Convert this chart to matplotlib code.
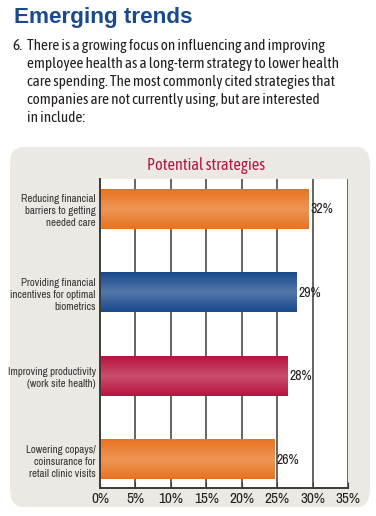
import numpy as np
import matplotlib.pyplot as plt
from matplotlib import font_manager
from matplotlib.font_manager import FontProperties
from matplotlib.patches import FancyBboxPatch
from matplotlib.colors import LinearSegmentedColormap

# chart data
categories = [
    'Reducing financial\nbarriers to getting\nneeded care',
    'Providing financial\nincentives for optimal\nbiometrics',
    'Improving productivity\n(work site health)',
    'Lowering copays/\ncoinsurance for\nretail clinic visits',
]
bar_values = [29.4, 27.7, 26.4, 24.6]      # bar lengths as drawn
value_labels = ['32%', '29%', '28%', '26%']  # printed labels
bar_colors = ['#E8731F', '#1B4A8C', '#B8143F', '#E8731F']
ticks = [0, 5, 10, 15, 20, 25, 30, 35]

W, H = 376, 516

files = {f.fname.split('/')[-1]: f.fname for f in font_manager.fontManager.ttflist}

def pick(*names):
    for n in names:
        if n in files:
            return FontProperties(fname=files[n])
    return FontProperties(family='DejaVu Sans', stretch='condensed')

body_font = pick('AsapCondensed-Regular.ttf', 'DejaVuSansCondensed.ttf')
narrow_font = pick('ArchivoNarrow[wght].ttf', 'DejaVuSansCondensed.ttf')

fig = plt.figure(figsize=(W / 100, H / 100), dpi=100)
fig.patch.set_facecolor('white')

def fx(px):
    return px / W

def fy(py):
    return 1 - py / H

# heading
fig.text(fx(14), fy(17), 'Emerging trends', fontsize=16.2, fontweight='bold',
         color='#1B4A8C', family='Liberation Sans', va='center', ha='left')

body = ['There is a growing focus on influencing and improving',
        'employee health as a long-term strategy to lower health',
        'care spending. The most commonly cited strategies that',
        'companies are not currently using, but are interested',
        'in include:']
fig.text(fx(12), fy(46), '6.', fontproperties=body_font, fontsize=11, color='#231F20', va='center')
for i, line in enumerate(body):
    fig.text(fx(27), fy(46 + i * 18), line, fontproperties=body_font, fontsize=11,
             color='#231F20', va='center')

# grey rounded panel
panel = FancyBboxPatch((fx(10), fy(507)), fx(360), 360 / H,
                       boxstyle='round,pad=0,rounding_size=0.035',
                       transform=fig.transFigure, facecolor='#ECE9E4',
                       edgecolor='none', zorder=-10)
fig.patches.append(panel)

fig.text(fx(206), fy(165), 'Potential strategies', fontproperties=body_font, fontsize=11.8,
         color='#B8143F', ha='center', va='center')

ax = fig.add_axes([fx(100), fy(488), fx(248), (488 - 179) / H])
ax.set_facecolor('white')
ax.set_xlim(0, 35)
ax.set_ylim(3.34, -0.36)

for t in ticks[1:]:
    ax.axvline(t, color='#3A3A3A', lw=1.1, zorder=1)

bar_h = 0.47
for i, (v, c) in enumerate(zip(bar_values, bar_colors)):
    cmap = LinearSegmentedColormap.from_list('g', [c, 'white'])
    grad = np.abs(np.linspace(-1, 1, 50))[:, None]
    shade = 0.25 * (1 - grad)
    ax.imshow(shade, cmap=cmap, vmin=0, vmax=1, aspect='auto',
              extent=(0, v, i + bar_h / 2, i - bar_h / 2), zorder=2)
    ax.text(v + 0.3, i, value_labels[i], fontproperties=narrow_font, fontsize=10,
            color='#231F20', va='center', ha='left', zorder=3)

ax.set_yticks(range(len(categories)))
ax.set_yticklabels(categories, fontproperties=narrow_font, fontsize=7.8, color='#333333',
                   linespacing=1.25)
ax.set_xticks(ticks)
ax.set_xticklabels([f'{t}%' for t in ticks], fontproperties=narrow_font, fontsize=11,
                   color='#231F20')
ax.tick_params(axis='y', length=0, pad=3)
ax.tick_params(axis='x', length=4, color='#3A3A3A', direction='in', pad=3)

for s in ['top', 'right']:
    ax.spines[s].set_visible(False)
for s in ['left', 'bottom']:
    ax.spines[s].set_color('#3A3A3A')
    ax.spines[s].set_linewidth(1.4)

fig.savefig('out.png', dpi=100)
